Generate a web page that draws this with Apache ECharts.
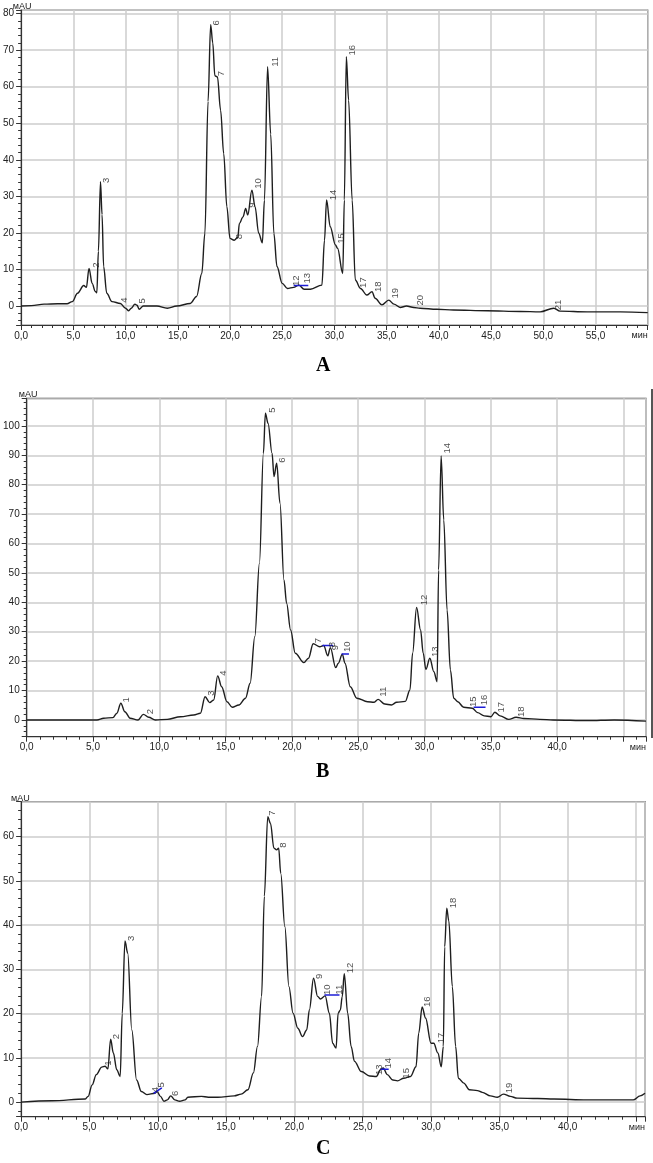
<!DOCTYPE html>
<html>
<head>
<meta charset="utf-8">
<script src="https://cdn.jsdelivr.net/npm/echarts@6/dist/echarts.min.js"></script>
<style>
html,body{margin:0;padding:0;background:#fff;}
#chart{width:653px;height:1163px;}
</style>
</head>
<body>
<div id="chart"></div>
<script>
// ---- Data: chromatogram traces [time (min), signal (mAU)] ----
const traceA = [[0,0],[1,0.1],[2.2,0.5],[3.5,0.6],[4.4,0.6],[4.9,1.2],[5.4,3.5],[6.0,5.6],[6.25,5.1],[6.5,10.3],[6.8,6.2],[7.1,4.0],[7.25,3.6],[7.4,15],[7.6,34],[7.75,25],[7.9,10.8],[8.2,3.5],[8.7,1.2],[9.5,0.7],[10.0,-0.6],[10.3,-1.3],[10.55,-0.6],[10.9,0.5],[11.1,0.2],[11.3,-0.9],[11.7,0],[13.0,0],[14.0,-0.6],[14.9,0],[16.2,0.7],[16.8,2.6],[17.3,8.9],[17.6,20],[17.9,56],[18.15,77],[18.35,72],[18.55,63],[18.8,62.7],[19.1,53.6],[19.4,41.7],[19.7,27.2],[20.0,18.5],[20.4,18],[20.75,18.8],[20.9,22.6],[21.25,24.4],[21.5,26.7],[21.7,24.9],[22.1,31.7],[22.4,27.2],[22.75,19.9],[23.1,17.3],[23.3,29],[23.6,65.5],[23.9,47],[24.2,19.9],[24.5,10.8],[25.0,6.2],[25.5,4.8],[26.1,5.1],[26.6,5.7],[27.1,4.6],[27.7,4.6],[28.8,5.7],[29.05,18],[29.25,29],[29.6,21.7],[30.1,16.7],[30.3,15.8],[30.8,8.9],[30.95,29],[31.14,68.2],[31.36,56.3],[31.7,29],[32.0,7.1],[32.5,4.8],[33.1,3.0],[33.6,3.9],[33.9,2.1],[34.55,0.3],[35.2,1.6],[35.7,0.5],[36.3,-0.4],[36.9,0],[37.6,-0.4],[38.2,-0.6],[39.8,-0.9],[41.4,-1.1],[44.6,-1.3],[47.8,-1.5],[49.7,-1.6],[51.0,-0.6],[51.6,-1.4],[54.2,-1.6],[57.4,-1.6],[60,-1.8]];

const traceB = [[0,0],[5.3,0],[5.8,0.6],[6.5,0.8],[6.8,2.3],[7.1,5.7],[7.4,2.8],[7.8,0.6],[8.4,0],[8.8,1.9],[9.2,0.9],[9.7,0],[10.6,0.2],[11.6,1.1],[12.6,1.7],[13.1,2.3],[13.45,7.9],[13.8,5.9],[14.1,6.8],[14.4,15],[14.7,11.3],[15.1,6.2],[15.5,4.3],[16.0,5.1],[16.5,7.4],[16.85,12.5],[17.2,28.3],[17.55,53.3],[17.85,90.7],[18.0,104.3],[18.2,100.9],[18.5,90.7],[18.65,82.8],[18.85,87.3],[19.1,73.7],[19.4,47.6],[19.6,39.7],[19.9,30.6],[20.25,22.7],[20.9,19.5],[21.25,21],[21.6,25.9],[22.1,24.9],[22.4,25.3],[22.7,21.8],[22.9,24.6],[23.3,17.8],[23.5,19.3],[23.8,22.4],[24.0,19.3],[24.4,11.3],[24.9,7.4],[25.7,6.2],[26.2,6.0],[26.5,7.0],[27.0,5.4],[27.5,5.1],[27.9,6.0],[28.55,6.3],[28.9,10.2],[29.1,22.7],[29.4,38.3],[29.7,30.6],[29.9,22.7],[30.1,17.2],[30.4,21],[30.7,16.4],[30.95,13.0],[31.06,51],[31.25,89.8],[31.45,68],[31.7,37.4],[31.95,17],[32.2,7.4],[32.5,6.2],[32.95,4.3],[33.6,4.0],[34.0,2.5],[34.5,1.4],[35.0,1.1],[35.3,2.6],[35.7,1.4],[36.35,0.2],[36.9,0.9],[37.5,0.5],[38.7,0.2],[39.7,0],[42.3,-0.2],[44.3,0],[46.7,-0.4]];

const traceC = [[0,0],[2.26,0.3],[4.7,0.7],[4.9,1.3],[5.2,3.9],[5.5,6.2],[5.9,7.9],[6.15,8.1],[6.35,7.5],[6.55,14.2],[6.75,11.1],[7.0,7.3],[7.25,5.8],[7.4,20],[7.6,36.4],[7.8,33.7],[8.1,16.3],[8.45,5.0],[8.8,2.4],[9.2,1.7],[9.8,2.0],[9.95,2.4],[10.2,1.3],[10.45,0.2],[10.7,0.5],[10.95,1.4],[11.25,0.5],[11.6,0.2],[12.0,0.5],[12.2,1.1],[13.2,1.3],[13.7,1.1],[14.4,1.1],[15.6,1.4],[16.1,1.8],[16.6,2.8],[17.0,6.6],[17.3,12.6],[17.6,23.9],[17.8,46.5],[18.05,64.5],[18.25,63],[18.5,57.4],[18.7,57],[18.85,57.4],[19.0,51.7],[19.3,39.7],[19.6,26.1],[19.9,20.1],[20.25,16.7],[20.6,14.8],[20.9,16.3],[21.1,20.9],[21.4,28.0],[21.7,23.9],[21.9,23.3],[22.25,24.0],[22.56,20.1],[22.8,13.3],[23.05,12.2],[23.2,20.1],[23.36,20.8],[23.5,23.8],[23.65,29.0],[23.9,20.1],[24.15,12.6],[24.4,9.2],[24.9,6.9],[25.5,5.9],[26.0,5.8],[26.3,7.3],[26.5,7.7],[26.8,6.2],[27.2,5.0],[27.55,4.8],[28.0,5.4],[28.5,5.8],[28.9,8.0],[29.1,15.6],[29.35,21.5],[29.6,19],[30.0,13.3],[30.2,13.3],[30.5,11.1],[30.75,8.0],[30.9,12.6],[31.0,35.1],[31.15,43.8],[31.3,41],[31.56,26.1],[31.8,12.6],[32.0,5.4],[32.4,4.3],[32.8,2.8],[33.4,2.6],[33.75,2.2],[34.35,1.4],[34.85,1.1],[35.3,1.8],[35.8,1.3],[36.3,0.9],[37.8,0.8],[39.0,0.7],[41.4,0.5],[44.8,0.5],[45.3,1.4],[45.66,2.0]];

// ---- Peak number labels [time, signal, label] ----
const peaksA = [[7.2,11.2,'2'],[8.2,34.4,'3'],[9.9,1.6,'4'],[11.6,1.4,'5'],[18.7,77.5,'6'],[19.2,63.6,'7'],[20.9,19,'8'],[22.1,27.6,'9'],[22.75,33.5,'10'],[24.35,66.8,'11'],[26.35,6.9,'12'],[27.4,7.6,'13'],[29.9,30.4,'14'],[30.7,18.5,'15'],[31.7,70,'16'],[32.8,6.4,'17'],[34.2,5.3,'18'],[35.8,3.5,'19'],[38.2,1.6,'20'],[51.4,0.3,'21']];
const peaksB = [[7.55,6.8,'1'],[9.35,2.8,'2'],[13.9,9.1,'3'],[14.8,15.9,'4'],[18.5,105.4,'5'],[19.3,88.4,'6'],[21.96,27,'7'],[23.05,25.6,'8'],[23.3,24.6,'9'],[24.2,24.9,'10'],[26.9,9.6,'11'],[30.0,40.8,'12'],[30.8,23.2,'13'],[31.7,92.4,'14'],[33.7,6.2,'15'],[34.5,6.8,'16'],[35.8,4.3,'17'],[37.3,2.8,'18']];
const peaksC = [[6.35,8.8,'1'],[7.0,14.8,'2'],[8.1,37,'3'],[9.8,2.8,'4'],[10.3,3.9,'5'],[11.3,2.0,'6'],[18.4,65.3,'7'],[19.2,58.1,'8'],[21.8,28.4,'9'],[22.4,25.4,'10'],[23.3,25.4,'11'],[24.1,30.3,'12'],[26.2,7.3,'13'],[26.9,8.8,'14'],[28.2,6.5,'15'],[29.7,22.7,'16'],[30.75,14.5,'17'],[31.6,45,'18'],[35.7,3.2,'19']];

// ---- Baseline (blue) markers ----
const baseA = [[[26.1,5.6],[27.5,5.6]]];
const baseB = [[[22.3,25.3],[23.1,25.3]],[[23.75,22.4],[24.3,22.4]],[[33.7,4.3],[34.6,4.3]]];
const baseC = [[[9.7,2.0],[10.3,3.2]],[[22.2,24.2],[23.3,24.2]],[[26.3,7.4],[26.9,7.4]]];

// ---- Axis ranges ----
const xMax = [60, 46.7, 45.66];
const xLastLabel = [55, 40, 40];
const yMin = [-5.2, -5.7, -3.3];
const yMax = [81, 109.4, 67.9];
const panelNames = ['A', 'B', 'C'];
const yUnit = 'мAU';
const xUnit = 'мин';

// ---- Layout (pixels) ----
const layout = [
  {left: 20.7, right: 5.3, top: 10, height: 315, letterTop: 356},
  {left: 26.7, right: 7, top: 398.3, height: 338.4, letterTop: 762},
  {left: 19, right: 8, top: 801.7, height: 315, letterTop: 1139}
];

const traces = [traceA, traceB, traceC];
const peaks = [peaksA, peaksB, peaksC];
const bases = [baseA, baseB, baseC];

const FONT = 'Liberation Sans, Arial, sans-serif';
const grid = [], xAxis = [], yAxis = [], series = [], graphic = [];

layout.forEach((g, i) => {
  grid.push({left: g.left, right: g.right, top: g.top, height: g.height,
    show: true, borderColor: '#444', borderWidth: 1.2, containLabel: false});
  xAxis.push({
    type: 'value', gridIndex: i, min: 0, max: xMax[i], interval: 5,
    axisLine: {show: true, onZero: false, lineStyle: {color: '#333', width: 1.2}},
    axisTick: {show: true, length: 5, lineStyle: {color: '#333'}},
    minorTick: {show: true, splitNumber: 5, length: 3, lineStyle: {color: '#333'}},
    splitLine: {show: true, lineStyle: {color: '#cdcdcd', width: 1.5}},
    axisLabel: {show: true, showMaxLabel: false, margin: 6, fontSize: 10, color: '#222', fontFamily: FONT,
      formatter: v => (Math.abs(v % 5) < 1e-6 && v <= xLastLabel[i] + 1e-6 ? v.toFixed(1).replace('.', ',') : '')}
  });
  yAxis.push({
    type: 'value', gridIndex: i, min: yMin[i], max: yMax[i], minInterval: 10, maxInterval: 10, splitNumber: 8,
    axisLine: {show: true, onZero: false, lineStyle: {color: '#333', width: 1.2}},
    axisTick: {show: true, length: 5, lineStyle: {color: '#333'}},
    minorTick: {show: true, splitNumber: 5, length: 3, lineStyle: {color: '#333'}},
    splitLine: {show: true, lineStyle: {color: '#cdcdcd', width: 1.5}},
    axisLabel: {show: true, margin: 7, fontSize: 10, color: '#222', fontFamily: FONT,
      formatter: v => (Math.abs(v % 10) < 1e-6 ? String(Math.round(v)) : '')}
  });
  series.push({
    type: 'line', xAxisIndex: i, yAxisIndex: i, data: traces[i], showSymbol: false, symbol: 'none',
    smooth: 0.35, smoothMonotone: 'x', lineStyle: {color: '#1e1e1e', width: 1.4}, z: 3, silent: true
  });
  bases[i].forEach(seg => {
    series.push({type: 'line', xAxisIndex: i, yAxisIndex: i, data: seg, symbol: 'none',
      lineStyle: {color: '#1c1cd6', width: 1.5}, z: 4, silent: true});
  });
  series.push({
    type: 'scatter', xAxisIndex: i, yAxisIndex: i, data: peaks[i], symbolSize: 1,
    itemStyle: {color: 'rgba(0,0,0,0)'}, z: 5, silent: true,
    label: {show: true, position: 'inside', rotate: 90, fontSize: 9.5, color: '#222', fontFamily: FONT,
      formatter: p => p.value[2]}
  });
  graphic.push({type: 'text', left: g.left - 8, top: g.top - 8,
    style: {text: yUnit, font: '9px ' + FONT, fill: '#222'}});
  graphic.push({type: 'text', right: g.right, top: g.top + g.height + 6,
    style: {text: xUnit, font: '9px ' + FONT, fill: '#222'}});
  graphic.push({type: 'text', left: 316, top: g.letterTop,
    style: {text: panelNames[i], font: 'bold 20px Liberation Serif, Times New Roman, serif', fill: '#000'}});
});

graphic.push({type: 'line', shape: {x1: 652, y1: 389, x2: 652, y2: 738}, style: {stroke: '#555', lineWidth: 2}});

const chart = echarts.init(document.getElementById('chart'), null, {renderer: 'canvas'});
chart.setOption({animation: false, backgroundColor: '#fff', grid, xAxis, yAxis, series, graphic});
</script>
</body>
</html>
